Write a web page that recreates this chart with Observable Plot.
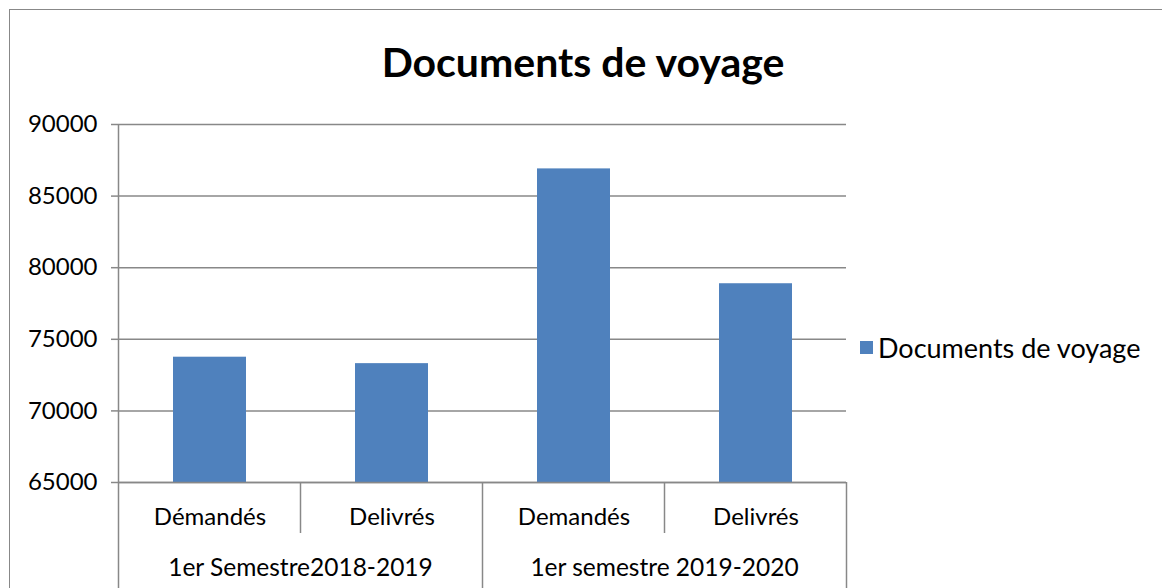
<!DOCTYPE html>
<html>
<head>
<meta charset="utf-8">
<script src="https://cdn.jsdelivr.net/npm/d3@7"></script>
<script src="https://cdn.jsdelivr.net/npm/@observablehq/plot@0.6"></script>
<style>
  html, body { margin: 0; padding: 0; background: #fff; }
  #wrap { position: relative; width: 1162px; height: 588px; overflow: hidden; font-family: Lato, "Open Sans", sans-serif; }
  #frame { position: absolute; left: 9px; top: 9px; width: 1300px; height: 700px; border-left: 1.5px solid #888; border-top: 1.5px solid #888; }
  #chart { position: absolute; left: 0; top: 0; }
  #title { position: absolute; left: 0; top: 37px; width: 1166px; text-align: center; font-weight: bold; font-size: 41px; color: #000; }
  #legend { position: absolute; left: 860px; top: 331px; font-size: 27px; color: #000; display: flex; align-items: center; white-space: nowrap; }
  #legend .sw { width: 13px; height: 13px; background: #4f81bd; margin-right: 5px; }
</style>
</head>
<body>
<div id="wrap">
  <div id="frame"></div>
  <div id="chart"></div>
  <div id="title"></div>
  <div id="legend"><span class="sw"></span><span id="legtext"></span></div>
</div>
<script>
const chartTitle = "Documents de voyage";
const seriesName = "Documents de voyage";
const groups = ["1er Semestre2018-2019", "1er semestre 2019-2020"];
const categories = ["Démandés", "Delivrés", "Demandés", "Delivrés"];
const categoryGroup = [0, 0, 1, 1];
const values = [73750, 73300, 86900, 78880];
const yTicks = [65000, 70000, 75000, 80000, 85000, 90000];

const data = categories.map((c, i) => ({
  key: i + "|" + c,
  label: c,
  group: groups[categoryGroup[i]],
  value: values[i]
}));
const keys = data.map(d => d.key);
const yMin = yTicks[0], yMax = yTicks[yTicks.length - 1];

document.getElementById("title").textContent = chartTitle;
document.getElementById("legtext").textContent = seriesName;

const gray = "#888888";
const FONT = "Lato, 'Open Sans', sans-serif";

function hierAxis(index, scales, values_, dimensions) {
  const x = scales.x, y = scales.y;
  const step = x(keys[1]) - x(keys[0]);
  const bw = (typeof x.bandwidth === "function") ? x.bandwidth() : (scales.scales && scales.scales.x.bandwidth);
  const base = y(yMin);
  const top = y(yMax);
  const bottom = dimensions.height;
  const g = d3.create("svg:g");
  const bounds = keys.map(k => x(k) + bw / 2 - step / 2);
  bounds.push(x(keys[keys.length - 1]) + bw / 2 + step / 2);
  bounds.forEach((bx, i) => {
    const full = (i === 0 || i === bounds.length - 1 || categoryGroup[i] !== categoryGroup[i - 1]);
    g.append("line")
      .attr("x1", bx).attr("x2", bx)
      .attr("y1", i === 0 ? top : base).attr("y2", full ? bottom : base + 51)
      .attr("stroke", gray).attr("stroke-width", 1.5);
  });
  groups.forEach((gname, gi) => {
    const idx = categoryGroup.map((v, i) => v === gi ? i : -1).filter(i => i >= 0);
    const cx = (x(keys[idx[0]]) + x(keys[idx[idx.length - 1]]) + bw) / 2;
    g.append("text")
      .attr("x", cx).attr("y", base + 86)
      .attr("dy", "0.32em")
      .attr("text-anchor", "middle")
      .attr("font-size", 24.5)
      .attr("font-family", FONT)
      .attr("fill", "#000")
      .text(gname);
  });
  return g.node();
}

const plot = Plot.plot({
  width: 1162,
  height: 588,
  marginLeft: 118,
  marginRight: 316,
  marginTop: 124,
  marginBottom: 106,
  style: { fontFamily: FONT, background: "transparent", overflow: "visible" },
  x: { type: "band", domain: keys, paddingInner: 0.6, paddingOuter: 0.3, axis: null, label: null },
  y: { domain: [yMin, yMax], axis: null, label: null },
  marks: [
    Plot.gridY(yTicks, { stroke: gray, strokeOpacity: 1, strokeWidth: 1.5 }),
    Plot.barY(data, { x: "key", y1: () => yMin, y2: "value", fill: "#4f81bd" }),
    Plot.ruleY([yMin], { stroke: gray, strokeWidth: 1.5 }),
    Plot.axisY(yTicks, {
      tickSize: 7, tickPadding: 14, stroke: gray, strokeWidth: 1.5,
      fill: "#000", fontSize: 24, tickFormat: d => String(d), label: null
    }),
    Plot.text(data, {
      x: "key", text: "label", frameAnchor: "bottom", dy: 42,
      fontSize: 24, fill: "#000"
    }),
    hierAxis
  ]
});
document.getElementById("chart").appendChild(plot);
</script>
</body>
</html>
